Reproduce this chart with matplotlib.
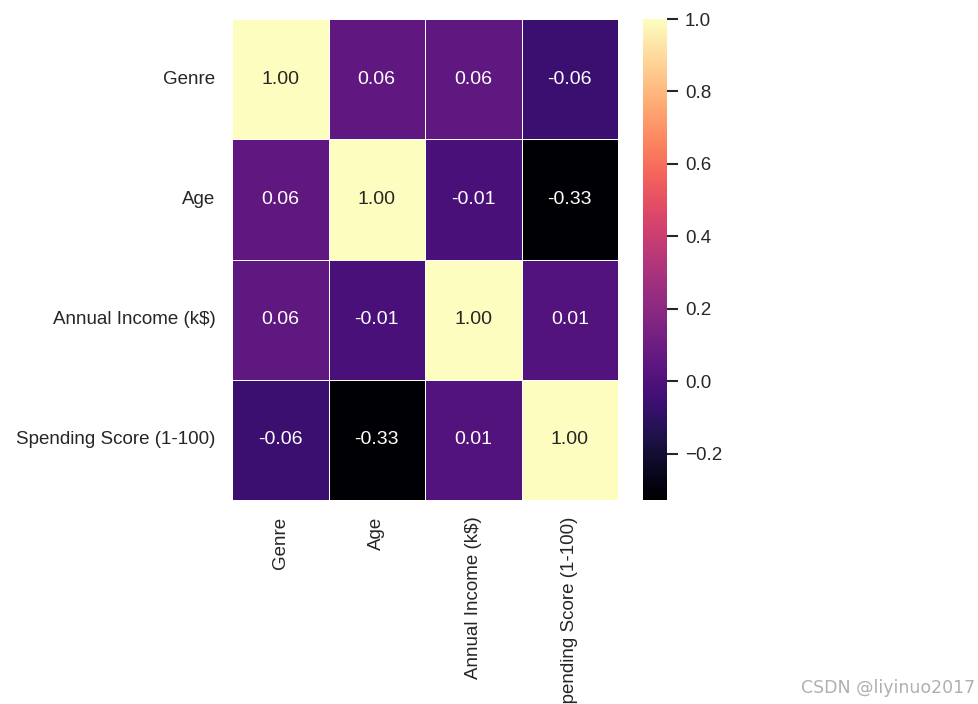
import matplotlib
matplotlib.use("Agg")
import matplotlib.pyplot as plt
import numpy as np
import pandas as pd
import seaborn as sns

labels = ["Genre", "Age", "Annual Income (k$)", "Spending Score (1-100)"]
genre = [1.0, 0.060867, 0.05641, -0.058109]
age = [0.060867, 1.0, -0.012398, -0.327227]
income = [0.05641, -0.012398, 1.0, 0.009903]
spending = [-0.058109, -0.327227, 0.009903, 1.0]

corr = pd.DataFrame([genre, age, income, spending], index=labels, columns=labels)

sns.set_style("white")
plt.rcParams["font.family"] = ["Liberation Sans", "DejaVu Sans"]

W, H = 979, 704
fig = plt.figure(figsize=(W / 100, H / 100), dpi=100)
ax = fig.add_axes([232 / W, 1 - 500 / H, 386 / W, 481 / H])
cax = fig.add_axes([643 / W, 1 - 500 / H, 24 / W, 481 / H])

sns.heatmap(corr, ax=ax, cbar_ax=cax, cmap="magma", annot=True, fmt=".2f",
            linewidths=0.6, linecolor="white", annot_kws={"size": 14})

ax.tick_params(axis="both", length=0, labelsize=13.5, colors="#262626", pad=12)
ax.set_yticklabels(labels, rotation=0)
ax.set_xticklabels(labels, rotation=90)
cax.tick_params(labelsize=13.5, colors="#262626", length=8, width=1.5,
                left=False, right=True, pad=5)
cax.yaxis.set_ticks([-0.2, 0.0, 0.2, 0.4, 0.6, 0.8, 1.0])

fig.text(975 / W, 1 - 688 / H, "CSDN @liyinuo2017", ha="right", va="center",
         fontsize=12.5, color="#b0b0b0", family=["Liberation Sans Narrow", "DejaVu Sans"])

fig.savefig("out.png", dpi=100)
